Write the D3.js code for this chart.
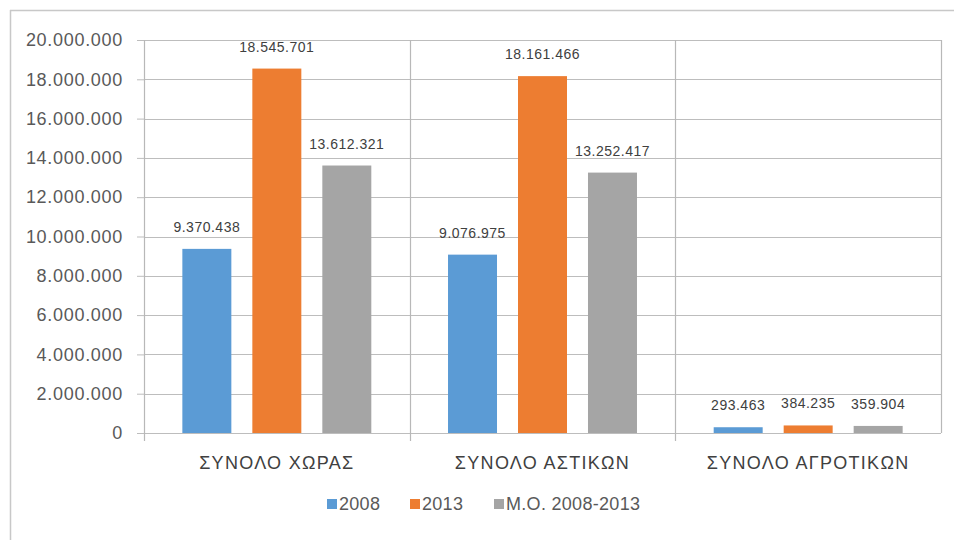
<!DOCTYPE html>
<html>
<head>
<meta charset="utf-8">
<script src="https://cdn.jsdelivr.net/npm/d3@7"></script>
<style>
  body { margin: 0; background: #fff; }
  text { font-family: "Liberation Sans", Arial, sans-serif; }
</style>
</head>
<body>
<svg id="chart" width="954" height="540"></svg>
<script>
// categories and series
const categories = ['ΣΥΝΟΛΟ ΧΩΡΑΣ', 'ΣΥΝΟΛΟ ΑΣΤΙΚΩΝ', 'ΣΥΝΟΛΟ ΑΓΡΟΤΙΚΩΝ']
const seriesNames = ['2008', '2013', 'Μ.Ο. 2008-2013']
const values2008 = [9370438, 9076975, 293463]
const values2013 = [18545701, 18161466, 384235]
const valuesAvg = [13612321, 13252417, 359904]
const yTicks = [0, 2000000, 4000000, 6000000, 8000000, 10000000, 12000000, 14000000, 16000000, 18000000, 20000000]
const colors = ['#5B9BD5', '#ED7D31', '#A5A5A5']

const seriesValues = [values2008, values2013, valuesAvg]

const svg = d3.select('#chart')

// greek style number format : 18.545.701
const fmt = d3.formatLocale({ decimal: ',', thousands: '.', grouping: [3], currency: ['', '€'] }).format(',d')

const plotLeft = 144, plotRight = 941, plotTop = 40, plotBottom = 433

// outer frame (partly cropped)
svg.append('line').attr('x1', 10).attr('x2', 954).attr('y1', 10.5).attr('y2', 10.5)
  .attr('stroke', '#c8c8c8').attr('stroke-width', 1.5)
svg.append('line').attr('x1', 10.5).attr('x2', 10.5).attr('y1', 10).attr('y2', 540)
  .attr('stroke', '#c8c8c8').attr('stroke-width', 1.5)

const y = d3.scaleLinear().domain([0, 20000000]).range([plotBottom, plotTop])
const x0 = d3.scaleBand().domain(categories).range([plotLeft, plotRight]).padding(0)
const x1 = d3.scaleBand().domain(seriesNames).range([0, x0.bandwidth()])
  .paddingInner(0.3).paddingOuter(0.548)

// y gridlines + ticks
const yAxis = svg.append('g').attr('transform', `translate(${plotLeft},0)`)
  .call(d3.axisLeft(y).tickValues(yTicks).tickFormat(fmt).tickSize(7).tickPadding(14))
yAxis.select('.domain').remove()
yAxis.selectAll('line').attr('stroke', '#bdbdbd')
yAxis.selectAll('text').attr('fill', '#595959').style('font-size', '18px')
  .style('letter-spacing', '0.7px')

svg.append('g').selectAll('line').data(yTicks).join('line')
  .attr('x1', plotLeft).attr('x2', plotRight)
  .attr('y1', d => Math.round(y(d)) + 0.5).attr('y2', d => Math.round(y(d)) + 0.5)
  .attr('stroke', '#bdbdbd').attr('stroke-width', 1.2)

// vertical category separators
const seps = categories.map(c => x0(c)).concat([plotRight])
svg.append('g').selectAll('line').data(seps).join('line')
  .attr('x1', d => Math.round(d) + 0.5).attr('x2', d => Math.round(d) + 0.5)
  .attr('y1', plotTop).attr('y2', (d, i) => i === seps.length - 1 ? plotBottom : plotBottom + 8)
  .attr('stroke', '#b8b8b8').attr('stroke-width', 1.2)

// bars
const groups = svg.append('g').selectAll('g').data(categories).join('g')
  .attr('transform', c => `translate(${x0(c)},0)`)

groups.selectAll('rect')
  .data((c, i) => seriesNames.map((s, j) => ({ s, j, v: seriesValues[j][i] })))
  .join('rect')
  .attr('x', d => x1(d.s))
  .attr('width', x1.bandwidth())
  .attr('y', d => y(d.v))
  .attr('height', d => y(0) - y(d.v))
  .attr('fill', d => colors[d.j])

groups.selectAll('text')
  .data((c, i) => seriesNames.map((s, j) => ({ s, j, v: seriesValues[j][i] })))
  .join('text')
  .attr('x', d => x1(d.s) + x1.bandwidth() / 2)
  .attr('y', d => y(d.v) - 17)
  .attr('text-anchor', 'middle')
  .attr('fill', '#404040')
  .style('font-size', '14px')
  .style('letter-spacing', '0.5px')
  .text(d => fmt(d.v))

// category labels
svg.append('g').selectAll('text').data(categories).join('text')
  .attr('x', c => x0(c) + x0.bandwidth() / 2)
  .attr('y', 469)
  .attr('text-anchor', 'middle')
  .attr('fill', '#404040')
  .style('font-size', '18px')
  .style('letter-spacing', '1.3px')
  .text(c => c)

// legend
const legendX = [327, 410, 494]
const legend = svg.append('g').selectAll('g').data(seriesNames).join('g')
  .attr('transform', (d, i) => `translate(${legendX[i]},510)`)
legend.append('rect').attr('x', 0).attr('y', -11).attr('width', 10).attr('height', 10)
  .attr('fill', (d, i) => colors[i])
legend.append('text').attr('x', 12).attr('y', 0)
  .attr('fill', '#595959').style('font-size', '18px')
  .style('letter-spacing', '0.3px')
  .text(d => d)
</script>
</body>
</html>
